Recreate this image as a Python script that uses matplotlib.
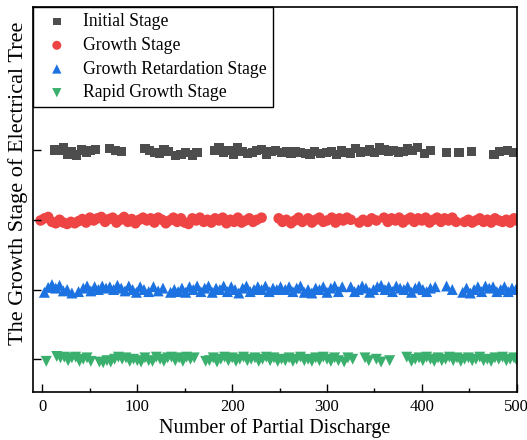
import matplotlib
matplotlib.use("Agg")
import matplotlib.pyplot as plt
from matplotlib.ticker import MultipleLocator

plt.rcParams['font.family'] = ['Liberation Serif', 'DejaVu Serif']

labels = ["Initial Stage", "Growth Stage", "Growth Retardation Stage", "Rapid Growth Stage"]
colors = ["#4d4d4d", "#ef4444", "#1c72e0", "#3bb06e"]
markers = ["s", "o", "^", "v"]
sizes = [44, 58, 62, 62]

initial_pts = [(13,4.00),(17,3.99),(22,4.04),(27,3.94),(31,3.98),(36,3.93),(41,4.00),(46,3.96),(51,3.99),(56,4.01),
    (71,4.02),(77,3.99),(83,3.98),
    (108,4.02),(113,3.99),(118,3.97),(123,3.95),(128,4.01),(133,3.98),(140,3.92),(146,3.94),(151,3.96),(158,3.93),(163,3.97),
    (181,3.99),(186,4.03),(191,3.96),(196,3.99),(201,3.94),(206,4.04),(211,3.98),(216,3.95),(221,3.97),(226,3.99),(231,4.01),(236,3.94),(241,3.98),(246,3.99),
    (252,3.97),(257,3.98),(262,3.95),(267,3.98),(272,3.97),(277,3.95),(282,3.94),(287,3.98),(293,3.95),(299,3.97),(305,3.98),(310,3.94),(315,3.99),(320,3.97),(325,3.95),(330,4.02),(335,3.96),(340,3.98),(345,4.01),(350,3.96),(355,4.03),(360,4.00),(365,3.98),(370,3.99),(375,3.96),(380,3.98),(385,4.02),(390,3.99),(395,4.04),
    (403,3.95),(409,3.99),
    (426,3.97),(439,3.96),(452,3.98),
    (476,3.94),(482,3.98),(490,3.99),(497,3.97)]

growth_pts = [(-2,2.99),(2,3.02),(6,3.04),(10,2.97),(14,2.95),(18,3.00),(22,2.96),(26,2.94),(30,2.97),(34,2.95),(38,2.98),(42,3.01),(46,2.96),(50,3.03),(54,2.99),(58,3.02),(62,3.04),(66,2.97),(70,3.01),(74,3.03),(78,2.96),(82,3.00),(86,3.04),(90,2.97),(94,3.01),(98,2.95),(102,3.00),(106,3.03),(110,2.99),(114,3.02),(118,2.96),(122,3.03),(126,3.00),(130,2.95),(134,2.99),(138,3.03),(142,2.97),(146,3.02),(150,2.96),(154,2.94),(158,3.02),(162,2.99),(166,3.03),(170,2.97),(174,3.00),(178,2.96),(182,3.02),(186,2.99),(190,3.03),(194,2.95),(198,3.00),(202,2.97),(206,3.03),(210,2.96),(214,2.99),(218,3.02),(222,2.97),(226,3.00),(231,3.03),
    (249,3.02),(253,2.97),(257,3.00),(262,2.95),(266,2.99),(270,3.03),(274,2.97),(280,3.02),(284,2.96),(288,3.00),(292,3.03),(296,2.97),(300,2.99),(305,3.03),(309,2.96),(313,3.02),(317,2.99),(321,3.03),(325,3.00),
    (334,2.96),(338,3.00),(343,2.97),(347,3.02),(352,2.99),
    (360,3.03),(364,2.97),(368,3.02),(372,2.99),(376,3.03),(380,2.96),(384,3.00),(388,3.03),(392,2.97),(396,3.02),(400,2.99),(404,3.03),(408,2.96),(412,3.00),(416,3.03),(420,2.97),(424,3.02),(428,2.99),(432,3.03),(436,2.97),
    (445,2.97),(449,3.00),(453,2.96),(457,2.99),(461,3.02),(465,2.97),(469,3.00),(473,2.96),(477,3.02),(481,2.99),(485,2.97),(489,3.00),(493,2.96),(497,3.02),(500,2.99)]

retard_pts = [(2,1.96),(6,2.03),(10,2.07),(14,2.02),(18,2.06),(22,1.98),(26,2.00),(31,1.95),
    (38,1.97),(43,2.02),(47,2.05),(51,1.98),(55,2.04),(59,2.00),(63,2.05),(67,2.02),(71,2.04),(75,2.00),(79,2.06),(83,2.02),(87,1.98),(91,2.05),(95,2.00),(99,1.96),(103,2.04),(107,2.00),(112,1.97),(117,2.04),(122,1.98),(127,2.02),
    (135,1.96),(139,2.00),(143,1.97),(147,2.02),(151,1.96),(155,2.04),(159,2.00),(163,2.05),(167,1.97),(171,2.02),(175,2.05),(179,1.96),(183,2.02),(187,2.00),(191,2.05),(195,1.97),(199,2.04),(203,2.00),(207,1.95),(211,2.02),(215,2.05),(219,1.97),(223,2.00),(227,2.04),(231,2.00),(235,2.05),(239,1.97),(243,2.02),(247,2.00),(251,2.04),
    (256,2.00),(260,2.04),(264,1.97),(268,2.02),(272,2.05),(276,1.96),(280,2.00),(284,1.95),(288,2.02),(292,2.00),(296,2.04),(300,1.96),(304,2.02),(308,2.05),(312,1.97),(316,2.04),
    (325,2.04),(329,1.97),(333,2.00),(337,2.05),(341,2.02),(345,1.96),(349,2.00),(353,2.04),(357,2.06),(361,2.00),(365,2.04),(369,1.97),(373,2.05),(377,2.02),(381,2.00),(385,2.04),(389,1.96),(393,2.02),(397,2.05),(401,2.00),(405,1.97),(409,2.02),(414,2.04),
    (426,2.05),(432,2.00),
    (443,1.96),(447,2.02),(451,1.95),(455,2.00),(459,2.04),(463,1.97),(467,2.05),(471,2.02),(475,2.04),(479,1.97),(483,2.00),(487,2.04),(491,1.97),(495,2.02),(499,2.00)]

rapid_pts = [(4,0.97),
    (15,1.04),(19,1.02),(23,1.03),(27,0.98),(31,1.02),(35,1.03),(39,0.97),(43,1.00),(47,1.02),(51,0.97),
    (60,0.96),(64,0.95),(68,0.98),(72,0.96),(76,1.00),(80,1.03),(84,1.00),(88,1.02),(92,0.97),(96,1.00),(100,0.98),(104,0.96),(108,1.02),(112,0.98),(116,0.97),(120,1.03),(124,1.00),(128,0.97),(132,1.02),(136,1.03),(140,0.98),(144,1.02),(148,0.97),(152,1.03),(156,1.00),(160,1.02),
    (172,0.97),(176,0.98),(180,1.02),(184,0.96),(188,1.00),(192,1.03),(196,0.98),(200,1.02),(204,0.97),(208,1.00),(212,1.03),(216,0.98),(220,1.00),(224,1.02),(228,0.97),(232,1.00),(236,1.03),(240,0.98),(244,1.02),(248,0.97),
    (252,1.00),(256,0.98),(260,1.02),(264,0.97),(268,1.00),(272,1.03),(276,0.98),(280,1.00),(284,0.97),(288,1.02),(292,0.98),(296,1.03),(300,1.00),(304,0.97),(308,1.02),(312,0.98),(318,0.96),(322,1.02),(327,1.00),
    (340,1.02),(344,0.98),(352,1.00),(357,0.96),(366,0.98),
    (384,1.03),(389,0.97),(393,1.00),(397,1.02),(401,0.98),(405,1.03),(409,1.00),(413,0.97),(417,1.02),(421,0.98),(425,1.00),(429,1.03),(433,0.98),(437,1.02),(441,0.97),(445,1.00),(449,1.02),(453,0.98),(457,1.00),(461,1.03),(465,0.98),(469,1.00),(473,0.97),(477,1.02),(481,1.00),(485,1.03),(489,0.98),(493,1.00),(497,1.02),(500,0.98)]

series = [initial_pts, growth_pts, retard_pts, rapid_pts]

fig = plt.figure(figsize=(5.27, 4.40), dpi=100)
ax = fig.add_axes([0.0626, 0.109, 0.918, 0.875])

for pts, lab, c, m, s in zip(series, labels, colors, markers, sizes):
    xs = [p[0] for p in pts]
    ys = [p[1] for p in pts]
    ax.scatter(xs, ys, marker=m, s=s, color=c, edgecolors='none', label=lab)

ax.set_xlim(-10, 500)
ax.set_ylim(0.53, 6.05)
ax.set_yticks([1, 2, 3, 4])
ax.set_yticklabels([])
ax.xaxis.set_major_locator(MultipleLocator(100))
ax.xaxis.set_minor_locator(MultipleLocator(50))
ax.tick_params(axis='both', which='major', direction='in', length=6, width=1, labelsize=12, pad=5)
ax.tick_params(axis='x', which='minor', direction='in', length=3, width=1)
ax.tick_params(top=False, right=False)
for sp in ax.spines.values():
    sp.set_linewidth(1.2)

ax.set_xlabel("Number of Partial Discharge", fontsize=14.5, labelpad=2)
ax.set_ylabel("The Growth Stage of Electrical Tree", fontsize=16)
ax.yaxis.set_label_coords(-0.011, 0.543)

leg = ax.legend(loc='upper left', borderaxespad=0, fontsize=12.7, fancybox=False,
                edgecolor='black', framealpha=1, handletextpad=0.5, labelspacing=0.38,
                borderpad=0.35, handlelength=2.0, markerscale=0.85)
leg.get_frame().set_linewidth(1.0)

fig.savefig("out.png", dpi=100)
